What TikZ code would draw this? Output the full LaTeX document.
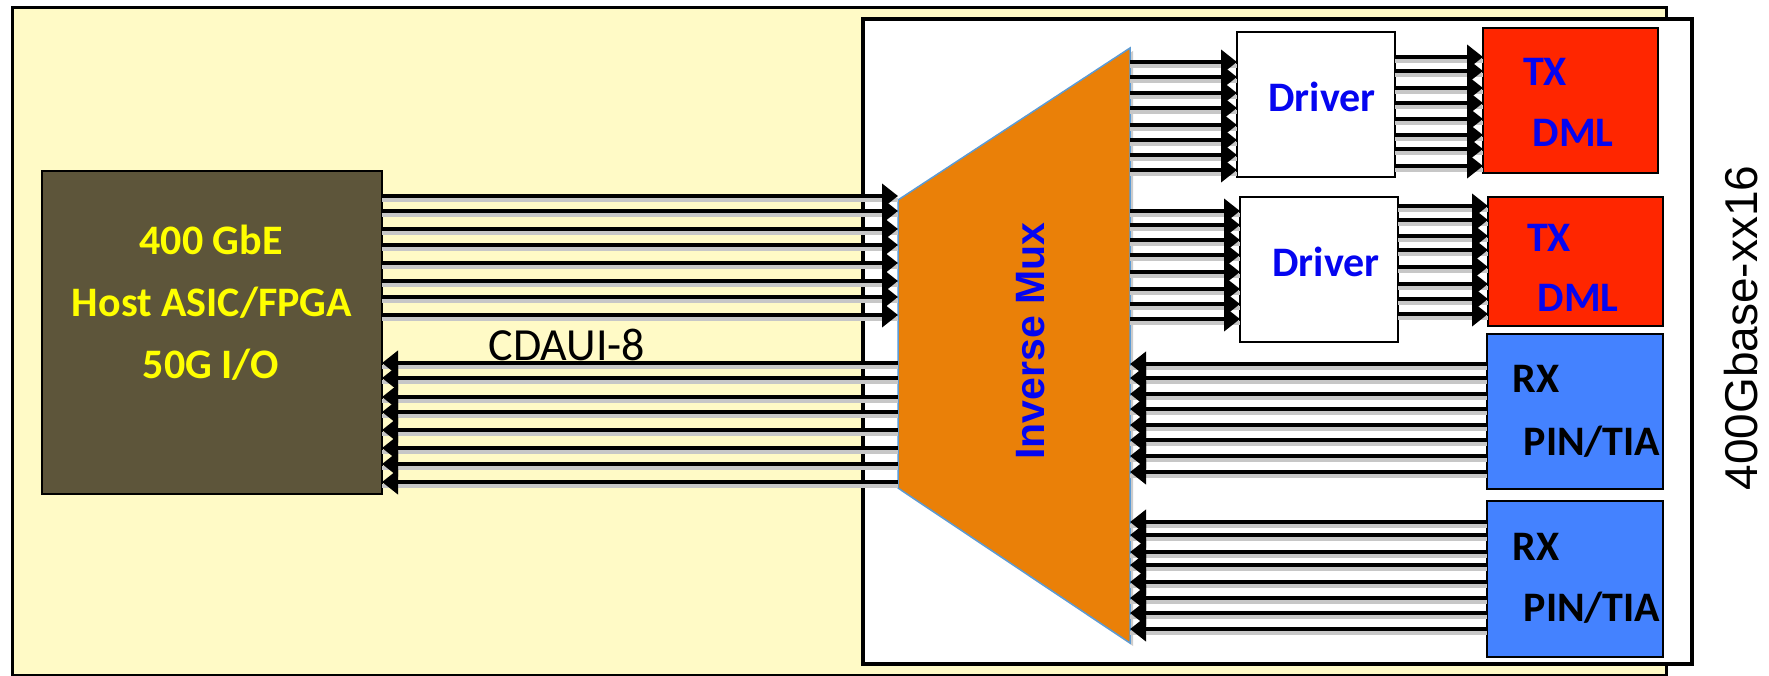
\documentclass[tikz,border=0pt]{standalone}
\usepackage{fontspec}
\setmainfont{Carlito}
\newfontfamily\arialfont{Liberation Sans}
\usetikzlibrary{arrows.meta}
\definecolor{bgyellow}{RGB}{255,250,198}
\definecolor{hostfill}{RGB}{93,85,58}
\definecolor{hostyellow}{RGB}{255,255,0}
\definecolor{muxorange}{RGB}{234,128,8}
\definecolor{muxedge}{RGB}{91,155,213}
\definecolor{txred}{RGB}{255,38,0}
\definecolor{rxblue}{RGB}{68,130,255}
\definecolor{txtblue}{RGB}{5,5,240}
\begin{document}
\begin{tikzpicture}[x=1pt,y=-1pt,
  box/.style={draw=black, line width=2.5pt, inner sep=0pt, outer sep=0pt, anchor=north west},
  wire/.style={line width=4pt, -{Triangle[length=16pt,width=24pt]},
    preaction={draw=black!22, line width=4pt, -, transform canvas={yshift=-4pt}}},
  bigtxt/.style={font=\fontsize{42}{46}\selectfont\bfseries, inner sep=0pt},
  hosttxt/.style={bigtxt, text=hostyellow},
  bluetxt/.style={bigtxt, text=txtblue},
  blacktxt/.style={bigtxt, text=black}]
\useasboundingbox (0,0) rectangle (1769,676);
% outer boxes
\node[box, line width=3pt, fill=bgyellow, minimum width=1654pt, minimum height=667pt] (board) at (12,8) {};
\node[box, line width=4pt, fill=white, minimum width=829pt, minimum height=645pt] (module) at (863,19) {};
% host
\node[box, line width=2pt, fill=hostfill, minimum width=340pt, minimum height=323pt] (host) at (42,171) {};
\node[hosttxt] (h1) at (211,240) {400 GbE};
\node[hosttxt] (h2) at (212,303) {Host ASIC/FPGA};
\node[hosttxt] (h3) at (211,365) {50G I/O};
% mux
\coordinate (muxTL) at (898,200);
\coordinate (muxTR) at (1130,48);
\coordinate (muxBR) at (1130,643);
\coordinate (muxBL) at (898,488);
\fill[black!20, transform canvas={shift={(3pt,-3pt)}}] (muxTL) -- (muxTR) -- (muxBR) -- (muxBL) -- cycle;
\draw[muxedge, line width=1.5pt, fill=muxorange] (muxTL) -- (muxTR) -- (muxBR) -- (muxBL) -- cycle;
\node[font=\arialfont\fontsize{41}{44}\selectfont\bfseries, text=txtblue, rotate=90, inner sep=0pt] (muxlabel) at (1031,341) {Inverse Mux};
% drivers
\node[box, fill=white, minimum width=158pt, minimum height=145pt] (drv1) at (1237,32) {};
\node[box, fill=white, minimum width=158pt, minimum height=145pt] (drv2) at (1240,197) {};
\node[bluetxt] (d1) at (1322,97) {Driver};
\node[bluetxt] (d2) at (1326,262) {Driver};
% TX
\node[box, fill=txred, minimum width=175pt, minimum height=145pt] (tx1) at (1483,28) {};
\node[box, fill=txred, minimum width=175pt, minimum height=129pt] (tx2) at (1488,197) {};
\node[bluetxt] (t1a) at (1545,72) {TX};
\node[bluetxt] (t1b) at (1573,133) {DML};
\node[bluetxt] (t2a) at (1549,238) {TX};
\node[bluetxt] (t2b) at (1578,298) {DML};
% RX
\node[box, fill=rxblue, minimum width=176pt, minimum height=155pt] (rx1) at (1487,334) {};
\node[box, fill=rxblue, minimum width=176pt, minimum height=156pt] (rx2) at (1487,501) {};
\node[blacktxt] (r1a) at (1536,379) {RX};
\node[blacktxt] (r1b) at (1592,442) {PIN/TIA};
\node[blacktxt] (r2a) at (1536,547) {RX};
\node[blacktxt] (r2b) at (1592,608) {PIN/TIA};
% buses
\foreach \y in {196,211,229,245,263,281,297,315}
  \draw[wire] (host.east |- 0,\y) -- (muxTL |- 0,\y);
\foreach \y in {363,378,397,412,430,448,464,482}
  \draw[wire] (muxTL |- 0,\y) -- (host.east |- 0,\y);
\foreach \y in {62,77,93,108,125,140,155,170}
  \draw[wire] (muxTR |- 0,\y) -- (drv1.west |- 0,\y);
\foreach \y in {57,71,88,103,119,135,149,166}
  \draw[wire] (drv1.east |- 0,\y) -- (tx1.west |- 0,\y);
\foreach \y in {211,225,240,255,272,289,304,319}
  \draw[wire] (muxTR |- 0,\y) -- (drv2.west |- 0,\y);
\foreach \y in {206,220,236,250,267,284,299,314}
  \draw[wire] (drv2.east |- 0,\y) -- (tx2.west |- 0,\y);
\foreach \y in {364,378,394,409,425,440,456,472}
  \draw[wire] (rx1.west |- 0,\y) -- (muxTR |- 0,\y);
\foreach \y in {522,535,552,565,582,598,613,629}
  \draw[wire] (rx2.west |- 0,\y) -- (muxTR |- 0,\y);
% labels
\node[font=\fontsize{46}{50}\selectfont, inner sep=0pt] (cdaui) at (567,345) {CDAUI-8};
\node[font=\arialfont\fontsize{46}{50}\selectfont, rotate=90, inner sep=0pt] (modname) at (1741,328) {400Gbase-xx16};
\end{tikzpicture}
\end{document}
